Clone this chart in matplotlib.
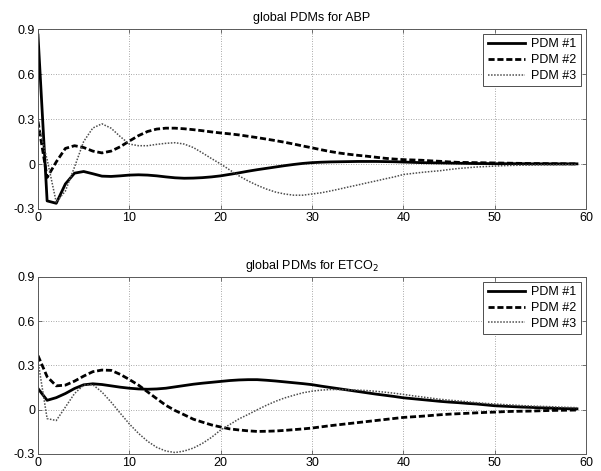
import numpy as np
from matplotlib import pyplot as plt

plt.rcParams['font.family'] = ['Liberation Sans', 'DejaVu Sans']

# lag axis (samples)
lags = np.arange(60)

# global PDMs for ABP
abp_pdm1 = [0.86, -0.246, -0.262, -0.133, -0.061, -0.05, -0.065, -0.081, -0.083, -0.079,
            -0.074, -0.072, -0.074, -0.079, -0.086, -0.092, -0.095, -0.094, -0.091, -0.086,
            -0.079, -0.069, -0.059, -0.048, -0.038, -0.029, -0.02, -0.011, -0.003, 0.004,
            0.009, 0.012, 0.014, 0.015, 0.016, 0.017, 0.017, 0.017, 0.016, 0.015,
            0.013, 0.011, 0.009, 0.008, 0.007, 0.006, 0.005, 0.004, 0.003, 0.003,
            0.002, 0.002, 0.002, 0.002, 0.001, 0.001, 0.001, 0.001, 0.001, 0.001]
abp_pdm2 = [0.284, -0.09, 0.014, 0.104, 0.122, 0.11, 0.086, 0.074, 0.086, 0.115,
            0.153, 0.189, 0.217, 0.233, 0.239, 0.239, 0.235, 0.229, 0.222, 0.214,
            0.207, 0.201, 0.194, 0.185, 0.176, 0.166, 0.156, 0.145, 0.133, 0.12,
            0.108, 0.095, 0.083, 0.073, 0.065, 0.058, 0.052, 0.045, 0.038, 0.033,
            0.029, 0.027, 0.025, 0.021, 0.018, 0.014, 0.011, 0.01, 0.009, 0.008,
            0.007, 0.006, 0.005, 0.004, 0.003, 0.003, 0.002, 0.002, 0.001, 0.001]
abp_pdm3 = [0.27, 0.03, -0.255, -0.18, -0.02, 0.15, 0.24, 0.268, 0.239, 0.183,
            0.133, 0.122, 0.122, 0.131, 0.138, 0.142, 0.133, 0.11, 0.074, 0.036,
            0.0, -0.04, -0.079, -0.113, -0.142, -0.167, -0.187, -0.2, -0.208, -0.208,
            -0.2, -0.192, -0.18, -0.167, -0.153, -0.14, -0.126, -0.113, -0.099, -0.086,
            -0.07, -0.063, -0.056, -0.05, -0.045, -0.037, -0.03, -0.025, -0.02, -0.017,
            -0.014, -0.011, -0.009, -0.008, -0.007, -0.006, -0.006, -0.005, -0.004, -0.004]

# global PDMs for ETCO2
et_pdm1 = [0.144, 0.064, 0.082, 0.11, 0.144, 0.169, 0.176, 0.171, 0.162, 0.153,
           0.146, 0.141, 0.139, 0.141, 0.146, 0.155, 0.164, 0.173, 0.18, 0.186,
           0.192, 0.198, 0.202, 0.204, 0.204, 0.2, 0.195, 0.189, 0.183, 0.177,
           0.17, 0.16, 0.151, 0.142, 0.133, 0.124, 0.115, 0.106, 0.098, 0.09,
           0.081, 0.075, 0.069, 0.063, 0.057, 0.052, 0.048, 0.043, 0.039, 0.033,
           0.027, 0.024, 0.021, 0.018, 0.016, 0.013, 0.011, 0.009, 0.007, 0.006]
et_pdm2 = [0.367, 0.224, 0.162, 0.167, 0.194, 0.228, 0.258, 0.269, 0.267, 0.24,
           0.205, 0.167, 0.121, 0.075, 0.03, -0.005, -0.034, -0.064, -0.084, -0.103,
           -0.117, -0.13, -0.137, -0.143, -0.147, -0.146, -0.144, -0.14, -0.135, -0.13,
           -0.124, -0.116, -0.108, -0.101, -0.094, -0.087, -0.08, -0.073, -0.066, -0.059,
           -0.052, -0.048, -0.044, -0.039, -0.034, -0.03, -0.027, -0.024, -0.021, -0.018,
           -0.016, -0.013, -0.011, -0.01, -0.009, -0.007, -0.005, -0.004, -0.003, -0.002]
et_pdm3 = [0.33, -0.06, -0.073, 0.018, 0.11, 0.167, 0.17, 0.12, 0.052, -0.023,
           -0.096, -0.16, -0.214, -0.255, -0.28, -0.29, -0.28, -0.26, -0.228, -0.187,
           -0.137, -0.1, -0.062, -0.032, 0.0, 0.03, 0.057, 0.08, 0.098, 0.115,
           0.126, 0.133, 0.137, 0.137, 0.135, 0.133, 0.13, 0.125, 0.119, 0.112,
           0.104, 0.095, 0.087, 0.079, 0.071, 0.065, 0.06, 0.054, 0.048, 0.043,
           0.039, 0.035, 0.032, 0.028, 0.025, 0.023, 0.021, 0.018, 0.016, 0.014]

labels = ['PDM #1', 'PDM #2', 'PDM #3']
xticks = [0, 10, 20, 30, 40, 50, 60]
yticks = [-0.3, 0, 0.3, 0.6, 0.9]
ytick_labels = ['-0.3', '0', '0.3', '0.6', '0.9']

FS = 9


def draw_panel(ax, pdms, title):
    ax.plot(lags, pdms[0], color='k', lw=2.0, ls='-', label=labels[0])
    ax.plot(lags, pdms[1], color='k', lw=2.0, ls=(0, (2.2, 1.0)), label=labels[1])
    ax.plot(lags, pdms[2], color='0.3', lw=1.1, ls=(0, (1, 1)), label=labels[2])
    ax.set_xlim(0, 60)
    ax.set_ylim(-0.3, 0.9)
    ax.set_xticks(xticks)
    ax.set_yticks(yticks)
    ax.set_yticklabels(ytick_labels)
    ax.tick_params(direction='in', top=True, right=True, length=3, width=0.6,
                   color='0.35', labelsize=FS, pad=2)
    ax.grid(True, color='0.55', ls=(0, (1, 2)), lw=0.6)
    for s in ax.spines.values():
        s.set_color('0.35')
        s.set_linewidth(0.7)
    ax.set_title(title, fontsize=FS, pad=6)
    leg = ax.legend(loc='upper right', fontsize=FS, fancybox=False, framealpha=1,
                    edgecolor='0.3', handlelength=3.0, handletextpad=0.5,
                    borderpad=0.35, labelspacing=0.3, borderaxespad=0.4)
    leg.get_frame().set_linewidth(0.7)


fig = plt.figure(figsize=(6.01, 4.71), dpi=100)
ax1 = fig.add_axes([0.0632, 0.5563, 0.912, 0.382])
ax2 = fig.add_axes([0.0632, 0.0361, 0.912, 0.3758])

draw_panel(ax1, [abp_pdm1, abp_pdm2, abp_pdm3], 'global PDMs for ABP')
draw_panel(ax2, [et_pdm1, et_pdm2, et_pdm3], 'global PDMs for ETCO$_2$')

fig.savefig('out.png', dpi=100)
